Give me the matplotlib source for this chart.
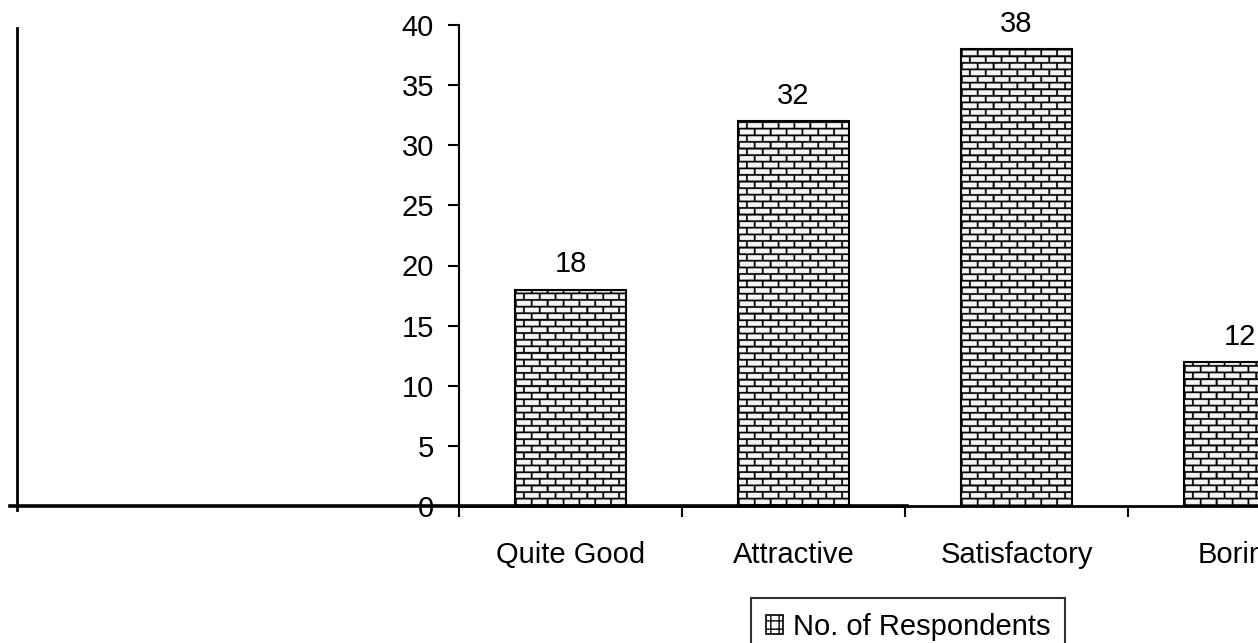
import numpy as np
import matplotlib
matplotlib.use("Agg")
import matplotlib.pyplot as plt
from matplotlib.lines import Line2D
from matplotlib.patches import Patch

categories = ["Quite Good", "Attractive", "Satisfactory", "Boring"]
respondents = [18, 32, 38, 12]
yticks = [0, 5, 10, 15, 20, 25, 30, 35, 40]
series_name = "No. of Respondents"

plt.rcParams['font.family'] = ['Liberation Sans', 'DejaVu Sans']
plt.rcParams['font.size'] = 21

W, H = 1258, 643
fig = plt.figure(figsize=(W / 100, H / 100), dpi=100)
# axes runs off the right edge, like the original (Boring is cut)
ax = fig.add_axes([459 / W, 137 / H, 892 / W, 481 / H])

x = np.arange(len(categories))
ax.set_xlim(-0.5, len(categories) - 0.5)
ax.set_ylim(0, 40)

bars = ax.bar(x, respondents, width=0.5, facecolor='none',
              edgecolor='black', linewidth=1.5, zorder=3)


def brick_texture(w_px, h_px, ss=4, row=6.6, brick=15.8, mortar=1.8):
    # supersampled brick pattern, 1 = white, 0 = mortar
    hh, ww = int(h_px * ss), int(w_px * ss)
    yy = (np.arange(hh)[:, None] + 0.5) / ss
    xx = (np.arange(ww)[None, :] + 0.5) / ss
    yy = h_px - yy  # start pattern from the bottom
    r = np.floor(yy / row)
    horiz = (yy % row) < mortar
    shift = (r % 2) * brick / 2
    vert = ((xx + shift) % brick) < mortar
    tex = np.where(horiz | vert, 0.0, 0.96)
    return tex


for b in bars:
    x0, y0 = b.get_x(), b.get_y()
    x1, y1 = x0 + b.get_width(), y0 + b.get_height()
    p0 = ax.transData.transform((x0, y0))
    p1 = ax.transData.transform((x1, y1))
    tex = brick_texture(abs(p1[0] - p0[0]), abs(p1[1] - p0[1]))
    im = ax.imshow(tex, extent=[x0, x1, y0, y1], cmap='gray', vmin=0, vmax=1,
                   aspect='auto', interpolation='antialiased', zorder=2)
    im.set_clip_path(b)

ax.set_xlim(-0.5, len(categories) - 0.5)
ax.set_ylim(0, 40)

ax.bar_label(bars, labels=[str(v) for v in respondents], padding=8, fontsize=21)

ax.set_yticks(yticks)
ax.tick_params(axis='y', direction='out', length=8, width=1.5, pad=10)

# tick marks between the categories, labels in the middle
ax.set_xticks(np.arange(-0.5, len(categories), 1))
ax.set_xticklabels([])
ax.tick_params(axis='x', which='major', direction='out', length=8, width=1.5)
ax.set_xticks(x, minor=True)
ax.set_xticklabels(categories, minor=True)
ax.tick_params(axis='x', which='minor', length=0, pad=25)

for s in ['top', 'right']:
    ax.spines[s].set_visible(False)
ax.spines['left'].set_linewidth(1.5)
ax.spines['bottom'].set_linewidth(2)

# stray lines left over in the original picture
fig.add_artist(Line2D([10 / W, 907 / W], [1 - 506 / H, 1 - 506 / H],
                      transform=fig.transFigure, color='black', lw=2.6))
fig.add_artist(Line2D([17 / W, 17 / W], [1 - 28 / H, 1 - 510 / H],
                      transform=fig.transFigure, color='black', lw=2))

handle = Patch(facecolor='white', edgecolor='black', hatch='++', linewidth=1.2)
leg = fig.legend([handle], [series_name], loc='upper left',
                 bbox_to_anchor=(751 / W, 1 - 598 / H), borderaxespad=0,
                 frameon=True, fancybox=False, handlelength=0.6,
                 handleheight=0.6, handletextpad=0.35, borderpad=0.5,
                 fontsize=21)
leg.get_frame().set_edgecolor('black')
leg.get_frame().set_linewidth(1.5)

fig.savefig("out.png", dpi=100)
